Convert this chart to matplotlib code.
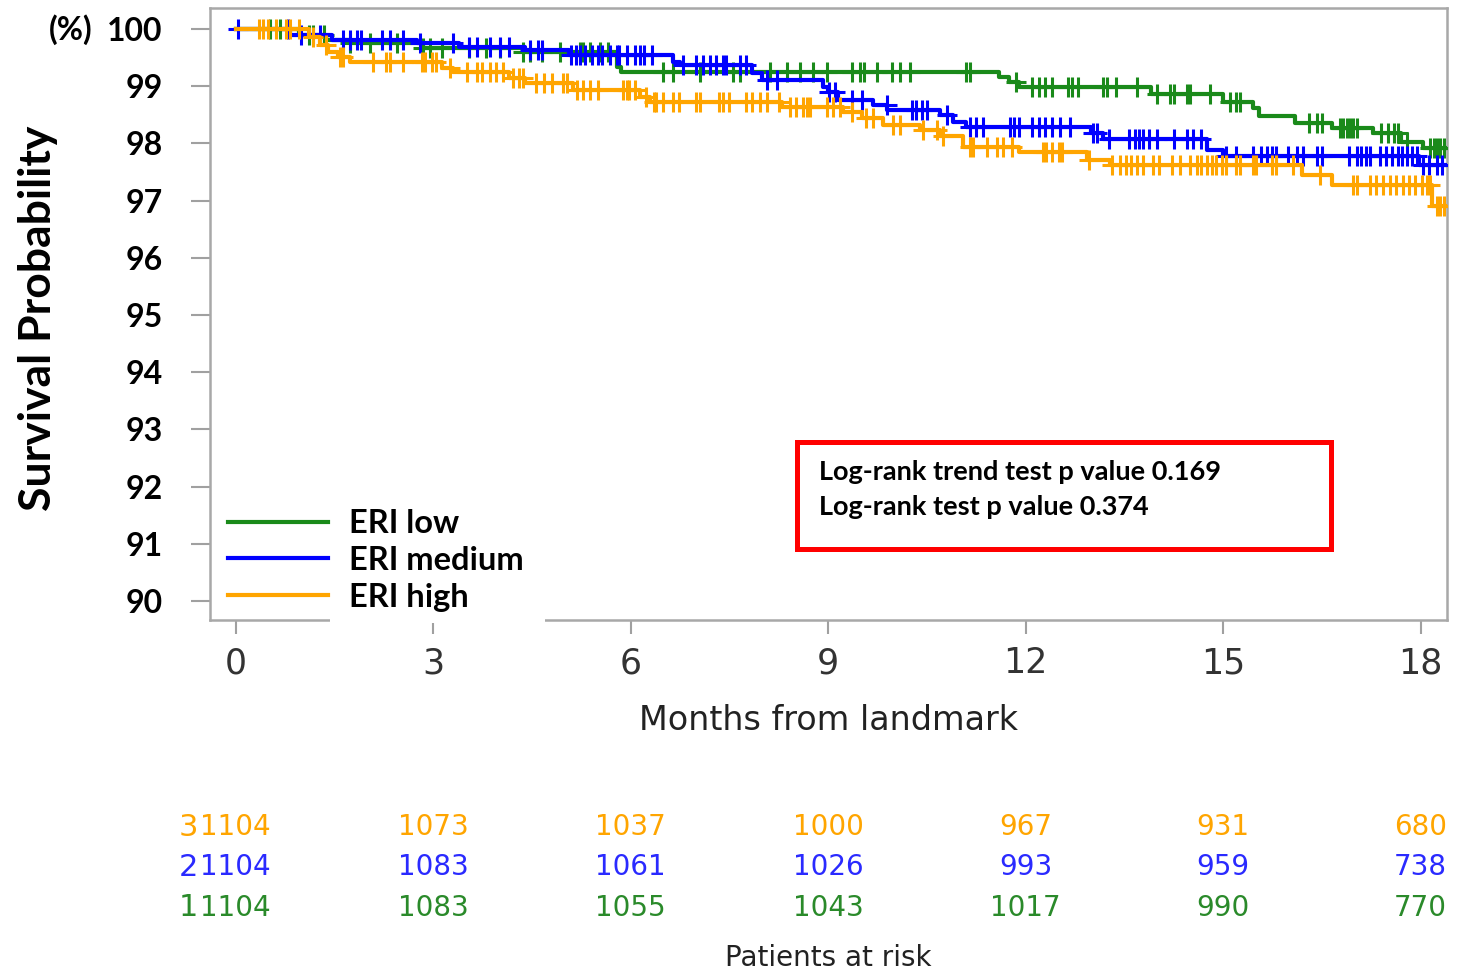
import numpy as np
import matplotlib
matplotlib.use('Agg')
import matplotlib.pyplot as plt
from matplotlib.lines import Line2D
from matplotlib.patches import Rectangle
from matplotlib.transforms import blended_transform_factory

# Kaplan-Meier steps: (time of drop in months, survival % after the drop)
low_t = [0, 0.97, 1.38, 1.73, 2.84, 4.36, 5.79, 5.85, 11.6, 11.75, 11.9, 13.9,
         15.0, 15.45, 15.55, 16.1, 16.66, 17.27, 17.7, 18.03, 18.4]
low_s = [100, 99.9, 99.81, 99.76, 99.67, 99.6, 99.34, 99.25, 99.16, 99.07, 98.99, 98.87,
         98.73, 98.62, 98.47, 98.36, 98.27, 98.18, 98.03, 97.92, 97.92]

med_t = [0, 0.82, 1.47, 2.75, 3.4, 4.4, 5.07, 6.64, 6.75, 7.85, 8.0, 8.92, 9.0, 9.15,
         9.68, 9.9, 10.7, 10.9, 11.1, 13.0, 13.17, 14.75, 15.0, 17.98, 18.4]
med_s = [100, 99.9, 99.81, 99.76, 99.69, 99.63, 99.55, 99.42, 99.37, 99.23, 99.11, 98.99, 98.9, 98.76,
         98.67, 98.59, 98.5, 98.38, 98.29, 98.18, 98.08, 97.89, 97.77, 97.63, 97.63]

high_t = [0, 1.12, 1.28, 1.4, 1.55, 1.73, 3.14, 3.3, 4.16, 4.4, 5.12, 6.14, 6.3, 8.3,
          9.22, 9.52, 9.83, 10.39, 10.7, 11.05, 11.9, 12.93, 13.28, 16.2, 16.66, 18.18, 18.4]
high_s = [100, 99.86, 99.72, 99.6, 99.51, 99.42, 99.32, 99.25, 99.14, 99.06, 98.94, 98.81, 98.73, 98.64,
          98.55, 98.45, 98.32, 98.24, 98.12, 97.94, 97.84, 97.71, 97.62, 97.45, 97.28, 96.9, 96.9]

# censoring times (months)
low_cens = [0.52, 0.67, 1.12, 1.17, 1.35, 1.73, 2.04, 2.45, 2.84, 2.95, 3.14, 3.55, 3.81, 4.01, 4.36,
            4.47, 4.66, 4.92, 5.23, 5.27, 5.38, 5.53, 5.65, 6.49, 6.64, 7.05, 7.55, 7.66, 8.11, 8.37,
            8.57, 8.77, 8.98, 9.37, 9.48, 9.55, 9.75, 9.97, 10.09, 10.24, 11.1, 11.15, 11.86, 12.1,
            12.2, 12.3, 12.4, 12.65, 12.7, 12.8, 13.17, 13.23, 13.38, 13.69, 13.99, 14.19, 14.26,
            14.45, 14.5, 14.8, 15.1, 15.2, 15.25, 16.31, 16.42, 16.5, 16.77, 16.82, 16.88, 16.93,
            16.97, 17.03, 17.4, 17.5, 17.6, 17.66, 17.8, 18.15, 18.2, 18.25, 18.3, 18.35]
med_cens = [0.03, 0.79, 1.0, 1.28, 1.63, 1.73, 1.84, 1.91, 2.23, 2.34, 2.54, 2.8, 3.3, 3.55, 3.66,
            3.86, 4.01, 4.16, 4.47, 4.59, 4.66, 5.1, 5.17, 5.23, 5.3, 5.41, 5.5, 5.57, 5.68, 5.79,
            5.83, 5.94, 6.06, 6.14, 6.21, 6.33, 6.79, 7.0, 7.1, 7.2, 7.3, 7.4, 7.45, 7.66, 7.75,
            8.07, 8.22, 9.02, 9.1, 9.37, 9.52, 9.89, 10.27, 10.34, 10.42, 10.5, 10.8, 11.15, 11.25,
            11.35, 11.76, 11.83, 11.9, 12.1, 12.2, 12.3, 12.4, 12.52, 12.67, 13.02, 13.08, 13.27,
            13.57, 13.66, 13.73, 13.78, 13.88, 13.99, 14.26, 14.45, 14.54, 14.67, 15.05, 15.2,
            15.45, 15.58, 15.66, 15.75, 15.81, 15.98, 16.12, 16.21, 16.42, 16.5, 16.92, 17.03,
            17.1, 17.17, 17.23, 17.38, 17.48, 17.57, 17.65, 17.72, 17.8, 17.87, 17.94, 18.03,
            18.13, 18.25, 18.33]
high_cens = [0.36, 0.41, 0.49, 0.62, 0.77, 0.82, 0.97, 1.17, 1.38, 1.58, 1.63, 2.08, 2.29, 2.34,
             2.54, 2.83, 2.87, 2.98, 3.05, 3.25, 3.51, 3.66, 3.75, 3.86, 3.96, 4.06, 4.21, 4.3,
             4.36, 4.57, 4.69, 4.81, 4.97, 5.03, 5.19, 5.27, 5.38, 5.5, 5.88, 5.94, 5.98, 6.06,
             6.24, 6.36, 6.39, 6.49, 6.64, 6.74, 7.0, 7.05, 7.35, 7.4, 7.5, 7.76, 7.85, 7.96, 8.07,
             8.26, 8.42, 8.52, 8.62, 8.68, 8.73, 8.98, 9.07, 9.18, 9.37, 9.58, 9.68, 9.98, 10.09,
             10.44, 10.65, 10.74, 11.15, 11.2, 11.41, 11.56, 11.65, 11.79, 12.26, 12.31, 12.4,
             12.51, 12.56, 12.97, 13.32, 13.43, 13.53, 13.6, 13.69, 13.78, 13.93, 14.03, 14.23,
             14.34, 14.49, 14.6, 14.67, 14.75, 14.83, 14.9, 14.98, 15.05, 15.2, 15.25, 15.45,
             15.5, 15.75, 15.81, 16.06, 16.47, 16.97, 17.03, 17.23, 17.33, 17.43, 17.53, 17.63,
             17.73, 17.82, 17.92, 18.02, 18.1, 18.14, 18.25, 18.3, 18.35]

risk_times = [0, 3, 6, 9, 12, 15, 18]
risk_high = [1104, 1073, 1037, 1000, 967, 931, 680]
risk_med = [1104, 1083, 1061, 1026, 993, 959, 738]
risk_low = [1104, 1083, 1055, 1043, 1017, 990, 770]

yticks = [100, 99, 98, 97, 96, 95, 94, 93, 92, 91, 90]

C_LOW, C_MED, C_HIGH = '#1a8a1a', '#0000ff', '#ffa500'
BOLD = ['Lato', 'DejaVu Sans']
PLAIN = ['DejaVu Sans']


def surv_at(t_steps, s_steps, t):
    idx = np.searchsorted(t_steps, t, side='right') - 1
    return np.array(s_steps)[idx]


fig = plt.figure(figsize=(14.63, 9.73), dpi=100)
ax = fig.add_axes([0.1435, 0.363, 0.8455, 0.629])

groups = [(low_t, low_s, low_cens, C_LOW), (med_t, med_s, med_cens, C_MED),
          (high_t, high_s, high_cens, C_HIGH)]
for z, (t, s, cens, c) in enumerate(groups):
    ax.step(t, s, where='post', color=c, lw=3, zorder=3 + z)
    ax.plot(cens, surv_at(t, s, cens), ls='none', marker='+', ms=15, mew=2.2,
            color=c, zorder=3 + z)

ax.set_xlim(-0.39, 18.4)
ax.set_ylim(89.67, 100.37)
ax.set_xticks(risk_times)
ax.set_yticks(yticks)
ax.set_yticklabels([str(v) for v in yticks], fontsize=23, fontweight='bold', family=BOLD)
for lab in ax.get_xticklabels():
    lab.set_fontsize(25)
    lab.set_family(PLAIN)
    lab.set_color('#333333')
ax.tick_params(axis='y', length=14, width=1.5, color='#a0a0a0', pad=20)
ax.tick_params(axis='x', length=10, width=1.5, color='#a0a0a0', pad=9)
for sp in ax.spines.values():
    sp.set_color('#a8a8a8')
    sp.set_linewidth(1.8)

ax.set_xlabel('Months from landmark', fontsize=24, family=PLAIN, color='#222222', labelpad=17)
fig.text(0.026, 0.673, 'Survival Probability', rotation=90, ha='center', va='center',
         fontsize=32, fontweight='bold', family=BOLD)
fig.text(0.048, 0.97, '(%)', ha='center', va='center', fontsize=23, fontweight='bold', family=BOLD)

# white patch of the pasted legend text box
ax.add_patch(Rectangle((330 / 1463, 1 - 623 / 973), 215 / 1463, 120 / 973,
                       transform=fig.transFigure, facecolor='white', edgecolor='none',
                       clip_on=False, zorder=2.7))

handles = [Line2D([], [], color=C_LOW, lw=3), Line2D([], [], color=C_MED, lw=3),
           Line2D([], [], color=C_HIGH, lw=3)]
leg = ax.legend(handles, ['ERI low', 'ERI medium', 'ERI high'], loc='upper left',
                bbox_to_anchor=(228 / 1463, 1 - 509 / 973), bbox_transform=fig.transFigure,
                frameon=False, prop={'family': BOLD, 'weight': 'bold', 'size': 23.5},
                handlelength=3.05, handletextpad=0.65, labelspacing=0.24, borderpad=0,
                borderaxespad=0)
leg.set_zorder(6)

ax.add_patch(Rectangle((0.4745, 0.116), 0.4317, 0.1748, transform=ax.transAxes,
                       facecolor='white', edgecolor='#ff0000', lw=3.6, zorder=6))
ax.text(0.4923, 0.2418, 'Log-rank trend test p value 0.169', transform=ax.transAxes,
        va='center', fontsize=19.5, fontweight='bold', family=BOLD, zorder=7)
ax.text(0.4923, 0.1846, 'Log-rank test p value 0.374', transform=ax.transAxes,
        va='center', fontsize=19.5, fontweight='bold', family=BOLD, zorder=7)

# patients at risk table
tr = blended_transform_factory(ax.transData, fig.transFigure)
rows = [(risk_high, '3', C_HIGH, 827), (risk_med, '2', '#2a2aff', 867), (risk_low, '1', '#2a8a2a', 908)]
for vals, gid, c, ypx in rows:
    yf = 1 - ypx / 973
    fig.text(-0.72, yf, gid, transform=tr, ha='center', va='center', fontsize=22,
             color=c, family=PLAIN)
    for t, v in zip(risk_times, vals):
        fig.text(t, yf, str(v), transform=tr, ha='center', va='center', fontsize=20,
                 color=c, family=PLAIN)
fig.text(828 / 1463, 1 - 958 / 973, 'Patients at risk', ha='center', va='center',
         fontsize=20, color='#222222', family=PLAIN)

fig.savefig('out.png', dpi=100)
